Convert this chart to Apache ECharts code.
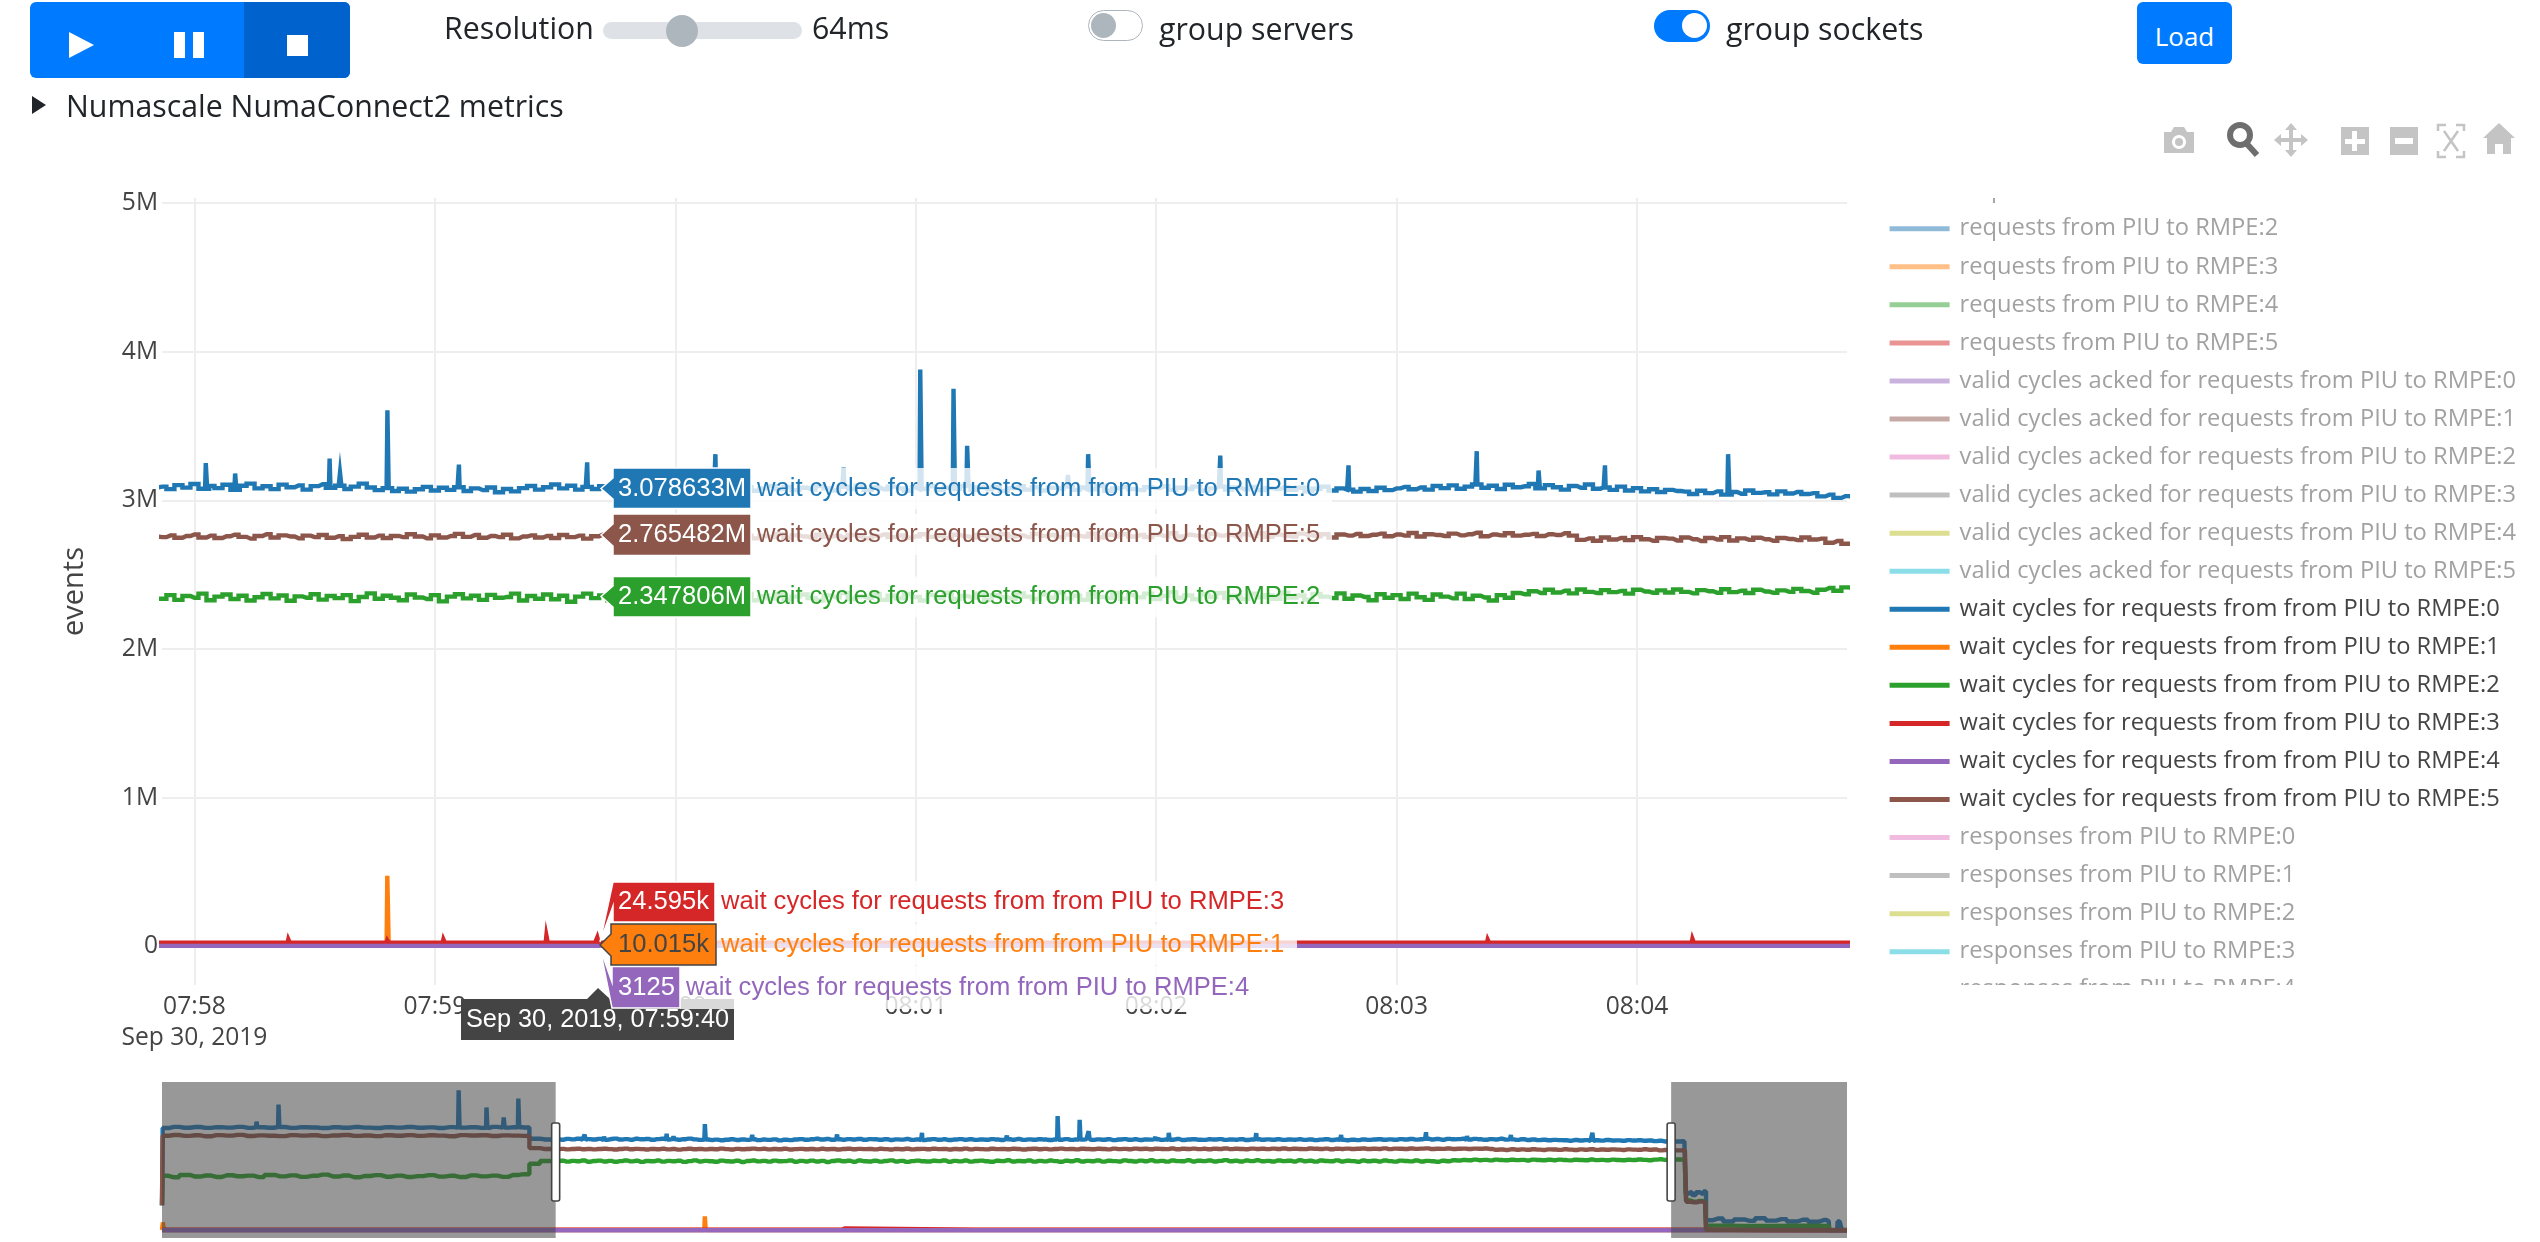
<!DOCTYPE html>
<html><head><meta charset="utf-8">
<style>
html,body{margin:0;padding:0;background:#fff;width:2540px;height:1242px;overflow:hidden;font-family:"Open Sans",sans-serif;color:#212529}
#chart{position:absolute;left:0;top:0;width:2540px;height:1242px}
.a{position:absolute}
.t{position:absolute;font-size:30.3px;line-height:40px;white-space:nowrap}
</style>
<script src="https://cdn.jsdelivr.net/npm/echarts@6/dist/echarts.min.js"></script>
</head><body>
<div id="chart"></div>
<div class="a" style="left:30px;top:2px;width:320px;height:76px;background:#007bff;border-radius:6px;overflow:hidden">
  <div class="a" style="left:214px;top:0;width:106px;height:76px;background:#0062cc"></div>
  <svg class="a" style="left:0;top:0" width="320" height="76">
    <polygon points="39,30 64,43 39,56" fill="#fff"/>
    <rect x="144" y="30" width="11" height="26" fill="#fff"/><rect x="163" y="30" width="11" height="26" fill="#fff"/>
    <rect x="257" y="33" width="21" height="21" fill="#fff"/>
  </svg>
</div>
<div class="t" style="left:444px;top:8px">Resolution</div>
<div class="a" style="left:603px;top:22px;width:199px;height:17px;background:#dee2e6;border-radius:9px"></div>
<div class="a" style="left:666px;top:15px;width:32px;height:32px;background:#adb5bd;border-radius:50%"></div>
<div class="t" style="left:812px;top:8px">64ms</div>
<div class="a" style="left:1088px;top:10px;width:53px;height:29px;border:1.5px solid #adb5bd;border-radius:16px;background:#fff"></div>
<div class="a" style="left:1091px;top:13px;width:25px;height:25px;background:#adb5bd;border-radius:50%"></div>
<div class="t" style="left:1159px;top:9px">group servers</div>
<div class="a" style="left:1654px;top:10px;width:56px;height:32px;background:#007bff;border-radius:16px"></div>
<div class="a" style="left:1682px;top:13px;width:25px;height:25px;background:#fff;border-radius:50%"></div>
<div class="t" style="left:1726px;top:9px">group sockets</div>
<div class="a" style="left:2137px;top:2px;width:95px;height:62px;background:#007bff;border-radius:6px;color:#fff;font-size:26px;line-height:68px;text-align:center">Load</div>
<svg class="a" style="left:30px;top:94px" width="20" height="22"><polygon points="2,2 16,11 2,20" fill="#212529"/></svg>
<div class="t" style="left:66px;top:86px">Numascale NumaConnect2 metrics</div>
<svg class="a" style="left:2160px;top:120px" width="370" height="40">
  <g fill="#c4c4c4">
    <path fill-rule="evenodd" d="M4 12h7l3-5h10l3 5h7v21H4z M19 15a7 7 0 1 0 .01 0z"/>
    <circle cx="19" cy="22" r="4"/>
    <path d="M181 7h28v28h-28z M192 11v8h-7v5h7v7h5v-7h8v-5h-8v-8z" fill-rule="evenodd"/>
    <path d="M230 7h28v28h-28z M235 18h18v6h-18z" fill-rule="evenodd"/>
    <path d="M131 3l6 7h-4v8h8v-4l7 6-7 6v-4h-8v8h4l-6 7-6-7h4v-8h-8v4l-7-6 7-6v4h8v-8h-4z"/>
    <path d="M339 3l16 15h-4v16h-8v-10h-8v10h-8V18h-4z"/>
    <g stroke="#c4c4c4" stroke-width="2.5" fill="none">
      <path d="M278 11V5h8M296 5h8v6M304 31v6h-8M286 37h-8v-6M284 11l14 20M298 11l-14 20"/>
    </g>
  </g>
  <g fill="none" stroke="#6e6e6e">
    <circle cx="80" cy="15" r="10" stroke-width="6"/>
    <path d="M87 24l10 11" stroke-width="6"/>
  </g>
</svg>
<script>
// Seconds are counted from 07:58:00 on Sep 30, 2019.
const xTickLabels = {0:'07:58',60:'07:59',120:'08:00',180:'08:01',240:'08:02',300:'08:03',360:'08:04'};
const xDateLabel = 'Sep 30, 2019';
const hoverTime = 'Sep 30, 2019, 07:59:40';

const legendNames = [
 'requests from PIU to RMPE:1','requests from PIU to RMPE:2','requests from PIU to RMPE:3','requests from PIU to RMPE:4','requests from PIU to RMPE:5',
 'valid cycles acked for requests from PIU to RMPE:0','valid cycles acked for requests from PIU to RMPE:1','valid cycles acked for requests from PIU to RMPE:2','valid cycles acked for requests from PIU to RMPE:3','valid cycles acked for requests from PIU to RMPE:4','valid cycles acked for requests from PIU to RMPE:5',
 'wait cycles for requests from from PIU to RMPE:0','wait cycles for requests from from PIU to RMPE:1','wait cycles for requests from from PIU to RMPE:2','wait cycles for requests from from PIU to RMPE:3','wait cycles for requests from from PIU to RMPE:4','wait cycles for requests from from PIU to RMPE:5',
 'responses from PIU to RMPE:0','responses from PIU to RMPE:1','responses from PIU to RMPE:2','responses from PIU to RMPE:3','responses from PIU to RMPE:4'];
const legendColors = ['#17becf','#1f77b4','#ff7f0e','#2ca02c','#d62728','#9467bd','#8c564b','#e377c2','#7f7f7f','#bcbd22','#17becf','#1f77b4','#ff7f0e','#2ca02c','#d62728','#9467bd','#8c564b','#e377c2','#7f7f7f','#bcbd22','#17becf','#1f77b4'];

// values in thousands of events; head = every 4 s from -156, main = every 2 s from -8, tail = [s, value]
const blueHead = [3470,3510,3480,3505,3475,3500,3485,3512,3478,3498,3482,3506,3476,3500,3488,3470,3496,3480,3504,3486,3472,3500,3484,3508,3480,3494,3474,3502,3486,3498,3478,3510,3484,3500,3490,3110,3082];
const brownHead = [3210,3235,3205,3225,3190,3230,3215,3238,3200,3222,3210,3195,3232,3212,3226,3198,3220,3236,3205,3218,3195,3228,3210,3232,3204,3224,3212,3192,3230,3216,3226,3202,3222,3212,3205,2790,2758];
const greenHead = [1850,1800,1880,1825,1860,1810,1870,1835,1855,1805,1880,1830,1865,1815,1850,1890,1825,1860,1800,1845,1875,1820,1858,1812,1840,1872,1822,1850,1808,1866,1830,1855,1815,1880,1905,2260,2355];

const blueMain = [
3092,3075,3102,3085,3110,3078,3096,3082,3104,3070,
3098,3112,3080,3094,3075,3105,3088,3100,3072,3095,
3108,3084,3098,3076,3092,3112,3086,3068,3082,3062,
3078,3058,3074,3090,3066,3084,3070,3088,3062,3080,
3068,3086,3054,3076,3060,3082,3096,3072,3088,3106,
3080,3098,3072,3090,3076,3094,3084,3100,3072,3096,
3088,3074,3092,3066,3086,3078,3098,3070,3084,3062,
3082,3094,3072,3088,3064,3080,3096,3076,3090,3068,
3084,3072,3096,3080,3066,3090,3076,3098,3070,3086,
3074,3092,3080,3064,3088,3076,3094,3068,3084,3078,
3096,3070,3086,3074,3090,3062,3082,3094,3072,3088,
3066,3084,3078,3092,3070,3086,3074,3098,3064,3080,
3090,3076,3068,3088,3082,3094,3070,3084,3076,3092,
3064,3080,3092,3072,3086,3074,3090,3068,3082,3076,
3088,3070,3084,3060,3078,3092,3066,3080,3072,3058,
3076,3062,3084,3068,3080,3090,3074,3086,3072,3096,
3082,3100,3078,3092,3106,3084,3098,3076,3104,3088,
3094,3110,3080,3102,3088,3072,3096,3084,3106,3078,
3086,3070,3092,3066,3082,3060,3074,3056,3070,3062,
3058,3042,3064,3048,3060,3038,3056,3044,3066,3050,
3054,3040,3060,3046,3056,3042,3048,3026,3038,3016,3028];
const brownMain = [
2752,2764,2748,2760,2770,2750,2762,2746,2758,2768,
2754,2742,2760,2772,2750,2764,2756,2744,2762,2752,
2766,2748,2758,2740,2754,2768,2750,2762,2746,2760,
2752,2772,2756,2744,2764,2750,2760,2774,2754,2766,
2748,2760,2752,2768,2744,2756,2764,2750,2760,2746,
2766,2752,2762,2742,2758,2770,2750,2764,2754,2760,
2748,2766,2756,2744,2762,2752,2768,2746,2758,2764,
2750,2770,2756,2762,2744,2760,2752,2772,2748,2764,
2756,2746,2768,2754,2762,2750,2766,2758,2744,2760,
2770,2752,2764,2748,2758,2772,2754,2762,2746,2768,
2758,2750,2766,2760,2748,2772,2756,2764,2752,2774,
2760,2766,2752,2770,2762,2756,2776,2750,2768,2758,
2772,2756,2766,2752,2770,2760,2778,2756,2768,2762,
2752,2774,2762,2768,2756,2772,2760,2778,2754,2770,
2762,2756,2776,2766,2758,2772,2750,2770,2762,2774,
2760,2768,2776,2758,2770,2762,2780,2756,2772,2766,
2760,2776,2764,2772,2782,2758,2770,2764,2778,2762,
2768,2774,2760,2772,2766,2778,2762,2734,2744,2728,
2750,2736,2746,2732,2752,2738,2728,2746,2742,2730,
2750,2738,2726,2746,2736,2752,2730,2744,2734,2748,
2738,2728,2746,2740,2732,2750,2736,2742,2714,2726,2708];
const greenMain = [
2338,2362,2330,2356,2344,2372,2328,2352,2366,2336,
2358,2326,2348,2370,2340,2360,2324,2354,2344,2368,
2332,2356,2342,2362,2322,2350,2374,2338,2358,2344,
2328,2366,2346,2336,2362,2320,2352,2368,2340,2358,
2330,2364,2344,2350,2372,2326,2356,2338,2366,2334,
2358,2318,2352,2372,2342,2360,2328,2368,2346,2336,
2362,2330,2354,2374,2338,2358,2324,2350,2366,2342,
2334,2360,2348,2372,2328,2356,2340,2368,2332,2352,
2366,2342,2326,2360,2348,2376,2334,2354,2344,2370,
2330,2358,2340,2368,2350,2326,2362,2342,2378,2336,
2356,2346,2372,2330,2362,2348,2338,2374,2352,2336,
2366,2344,2380,2340,2358,2330,2370,2350,2342,2376,
2338,2362,2348,2372,2336,2356,2382,2344,2360,2334,
2368,2350,2376,2342,2358,2336,2372,2348,2362,2338,
2378,2346,2360,2332,2370,2352,2342,2374,2338,2360,
2350,2328,2368,2344,2362,2336,2372,2348,2330,2366,
2352,2340,2372,2336,2358,2346,2326,2362,2344,2376,
2368,2388,2376,2398,2380,2392,2374,2400,2384,2376,
2396,2382,2390,2372,2398,2386,2378,2394,2380,2400,
2384,2374,2396,2388,2378,2402,2382,2392,2376,2398,
2386,2378,2394,2384,2404,2390,2378,2398,2410,2392,2414];

const blueTail = [[414,3015],[417.4,3025],[418.4,1250],[419.5,1310],[421,1200],[422.5,1290],[424,1225],[425.2,1320],[425.9,340],[430,400],[434,300],[438,370],[442,320],[446,410],[450,330],[454,380],[458,300],[462,360],[466,290],[470,350],[471.8,310],[472.3,0],[475,0],[475.3,300],[476.6,300],[476.9,0],[478.7,0]];
const brownTail = [[414,2712],[417.6,2718],[418.6,970],[421,950],[423,975],[425.2,960],[425.9,15],[478.7,10]];
const greenTail = [[414,2405],[417.5,2395],[418.5,1010],[421,970],[423,1000],[425.2,985],[425.9,160],[440,150],[460,155],[471.8,150],[472.3,0],[478.7,0]];
const orangeLine = [[-156.5,11],[-100,10],[0,10],[200,10],[400,10],[425.5,10],[425.9,0],[478.7,0]];
const redLine = [[-156.5,24],[-120,25],[-40,24.5],[0,25],[100,24.6],[200,25],[300,24.5],[400,25],[425.5,24],[425.9,0],[478.7,0]];
const purpleLine = [[-156.5,3],[-60,3.1],[0,3],[200,3.2],[400,3],[425.5,3],[425.9,0],[478.7,0]];
const seriesStart = 850;

// spikes: [s, thousands]
const blueSpikes = [[-120.7,3690],[-112.4,4270],[-44.5,4750],[-34,4170],[-27.5,3830],[-22,4470],[3,3250],[10.3,3180],[33.9,3280],[36.5,3185],[48.3,3606],[66,3240],[98,3255],[130,3310],[162,3220],[181.3,3880],[189.6,3750],[193,3366],[218,3170],[223.2,3310],[256,3300],[288,3235],[320,3330],[335.6,3200],[352,3235],[382.9,3310]];
const orangeSpikes = [[-156,270],[48.3,475]];
const redSpikes = [[23.6,47],[48.3,40],[62.3,47],[88,73],[100.7,60],[322.9,45],[374,50]];

const hoverValues = ['3.078633M','2.765482M','2.347806M','24.595k','10.015k','3125'];

const windowStart = -8.1, windowEnd = 412.4, fullStart = -156.5, fullEnd = 478.7;
const yMin = -260000, yMax = 5033000;

function withSpikes(points, spikes){
  let out = points.slice();
  spikes.forEach(([s,v])=>{
    let near = out.reduce((a,b)=>Math.abs(b[0]-s)<Math.abs(a[0]-s)?b:a);
    out.push([s-0.35,near[1]],[s,v],[s+0.35,near[1]]);
  });
  return out.sort((a,b)=>a[0]-b[0]).map(p=>[p[0],p[1]*1000]);
}
function sampled(head,main,tail){
  let pts=[[-156.5,seriesStart]];
  head.forEach((v,i)=>pts.push([-156+4*i,v]));
  main.forEach((v,i)=>pts.push([-8+2*i,v]));
  return pts.concat(tail);
}
const waitSeries = [
 {i:0,c:'#1f77b4',d:withSpikes(sampled(blueHead,blueMain,blueTail),blueSpikes)},
 {i:1,c:'#ff7f0e',d:withSpikes(orangeLine,orangeSpikes)},
 {i:2,c:'#2ca02c',d:withSpikes(sampled(greenHead,greenMain,greenTail),[])},
 {i:3,c:'#d62728',d:withSpikes(redLine,redSpikes)},
 {i:4,c:'#9467bd',d:withSpikes(purpleLine,[])},
 {i:5,c:'#8c564b',d:withSpikes(sampled(brownHead,brownMain,brownTail),[])}
];
const waitName = n=>'wait cycles for requests from from PIU to RMPE:'+n;

const chart = echarts.init(document.getElementById('chart'),null,{renderer:'canvas',width:2540,height:1242});
const series=[];
legendNames.filter(n=>!n.startsWith('wait')).forEach(n=>series.push({type:'line',name:n,data:[],xAxisIndex:0,yAxisIndex:0}));
waitSeries.forEach(s=>{
  series.push({type:'line',name:waitName(s.i),data:s.d,xAxisIndex:0,yAxisIndex:0,step:'middle',showSymbol:false,animation:false,color:s.c,lineStyle:{width:4.4,color:s.c,join:'miter'}});
});
waitSeries.forEach(s=>{
  series.push({type:'line',name:waitName(s.i),data:s.d,xAxisIndex:1,yAxisIndex:1,step:'middle',showSymbol:false,animation:false,color:s.c,lineStyle:{width:4.4,color:s.c}});
});
const axisFont={fontFamily:'"Open Sans"',fontSize:24.6,color:'#444'};
chart.setOption({
  animation:false,
  grid:[{left:162,top:198,width:1685,height:787},{left:162,top:1082,width:1685,height:156}],
  xAxis:[
   {type:'value',gridIndex:0,min:windowStart,max:windowEnd,minInterval:60,maxInterval:60,axisLine:{show:false},axisTick:{show:false},
    splitLine:{show:true,showMinLine:false,showMaxLine:false,lineStyle:{color:'#eee',width:2}},
    axisLabel:{...axisFont,margin:6,lineHeight:31,showMinLabel:false,showMaxLabel:false,hideOverlap:false,
      formatter:v=>{const l=xTickLabels[Math.round(v)];return (l&&Math.abs(v-Math.round(v))<1e-6)?(v===0?l+'\n'+xDateLabel:l):'';}}},
   {type:'value',gridIndex:1,min:fullStart,max:fullEnd,show:false}],
  yAxis:[
   {type:'value',gridIndex:0,min:yMin,max:yMax,minInterval:1e6,maxInterval:1e6,name:'events',nameLocation:'middle',nameGap:73,nameRotate:90,
    nameTextStyle:{fontFamily:'"Open Sans"',fontSize:29,color:'#444'},
    axisLine:{show:false},axisTick:{show:false},
    splitLine:{show:true,showMinLine:false,showMaxLine:false,lineStyle:{color:'#eee',width:2}},
    axisLabel:{...axisFont,margin:4,showMinLabel:false,showMaxLabel:false,
      formatter:v=>v%1e6!==0?'':(v===0?'0':(v/1e6)+'M')}},
   {type:'value',gridIndex:1,min:yMin,max:yMax,show:false}],
  legend:{orient:'vertical',left:1889.6,top:176.7,padding:0,itemGap:10.05,itemWidth:60,itemHeight:5,selectedMode:false,
    data:legendNames.map((n,i)=>{const w=n.startsWith('wait');return {name:n,icon:'rect',
      itemStyle:{color:legendColors[i],opacity:w?1:0.5},
      textStyle:{fontFamily:'"Open Sans"',fontSize:23.7,lineHeight:28,padding:[0,0,0,5],color:w?'#444':'rgba(68,68,68,0.5)'}};})},
  series
});

const pxX=s=>chart.convertToPixel({xAxisIndex:1},s);
const fLeft=pxX(fullStart),wL=pxX(windowStart),wR=pxX(windowEnd),fRight=pxX(fullEnd);
const labelFont='25.6px "Liberation Sans"';
const g=[];
// legend clipping and tooltip
g.push({type:'rect',z:100,shape:{x:1860,y:150,width:680,height:48},style:{fill:'#fff'}});
g.push({type:'rect',z:100,shape:{x:1860,y:985,width:680,height:40},style:{fill:'#fff'}});
g.push({type:'polygon',z:60,shape:{points:[[598,988],[610,999],[734,999],[734,1040],[461,1040],[461,999],[587,999]]},style:{fill:'#444'}});
g.push({type:'text',z:60.5,style:{text:hoverTime,x:597.5,y:1020,fill:'#fff',font:'25.3px "Liberation Sans"',align:'center',verticalAlign:'middle'}});
function hover(z,box,pts,value,valueColor,stroke,textX,mask,name,color){
  g.push({type:'rect',z:z,shape:{x:mask[0],y:mask[1],width:mask[2],height:mask[3]},style:{fill:'rgba(255,255,255,0.8)'}});
  g.push({type:'polygon',z:z+0.1,shape:{points:pts},style:{fill:color,stroke:stroke,lineWidth:1.5}});
  g.push({type:'text',z:z+0.2,style:{text:value,x:box,y:mask[1]+mask[3]/2,fill:valueColor,font:labelFont,align:'left',verticalAlign:'middle'}});
  g.push({type:'text',z:z+0.2,style:{text:name,x:textX,y:mask[1]+mask[3]/2,fill:color,font:labelFont,align:'left',verticalAlign:'middle'}});
}
hover(61,618,[[601,488.5],[613,478],[613,468],[751,468],[751,508.5],[613,508.5],[613,499]],hoverValues[0],'#fff','#fff',757,[751,468,581,41],waitName(0),'#1f77b4');
hover(62,618,[[601,535],[613,524],[613,514],[751,514],[751,555.5],[613,555.5],[613,546]],hoverValues[1],'#fff','#fff',757,[751,514,581,41],waitName(5),'#8c564b');
hover(63,618,[[601,596.5],[613,586],[613,576.5],[751,576.5],[751,617],[613,617],[613,607]],hoverValues[2],'#fff','#fff',757,[751,576.5,581,41],waitName(2),'#2ca02c');
hover(64,618,[[600,942],[613,882],[715,882],[715,922],[613,922],[613,906]],hoverValues[3],'#fff','#fff',721,[715,881,581,41],waitName(3),'#d62728');
hover(66,618,[[600,948],[612,1008],[680,1008],[680,966.5],[612,966.5],[612,982]],hoverValues[5],'#fff','#fff',686,[680,966,580,43],waitName(4),'#9467bd');
hover(68,618,[[600,945],[611,934],[611,924],[716,924],[716,965],[611,965],[611,956]],hoverValues[4],'#444','#444',721,[716,924,581,41],waitName(1),'#ff7f0e');
// range slider masks and handles
g.push({type:'rect',z:70,shape:{x:fLeft,y:1082,width:wL-fLeft,height:156},style:{fill:'rgba(68,68,68,0.55)'}});
g.push({type:'rect',z:70,shape:{x:wR,y:1082,width:fRight-wR,height:156},style:{fill:'rgba(68,68,68,0.55)'}});
[wL,wR].forEach(x=>g.push({type:'rect',z:71,shape:{x:x-4,y:1123,width:8,height:78,r:2},style:{fill:'#fff',stroke:'#444',lineWidth:1.6}}));
chart.setOption({graphic:{elements:g}});
</script>
</body></html>
